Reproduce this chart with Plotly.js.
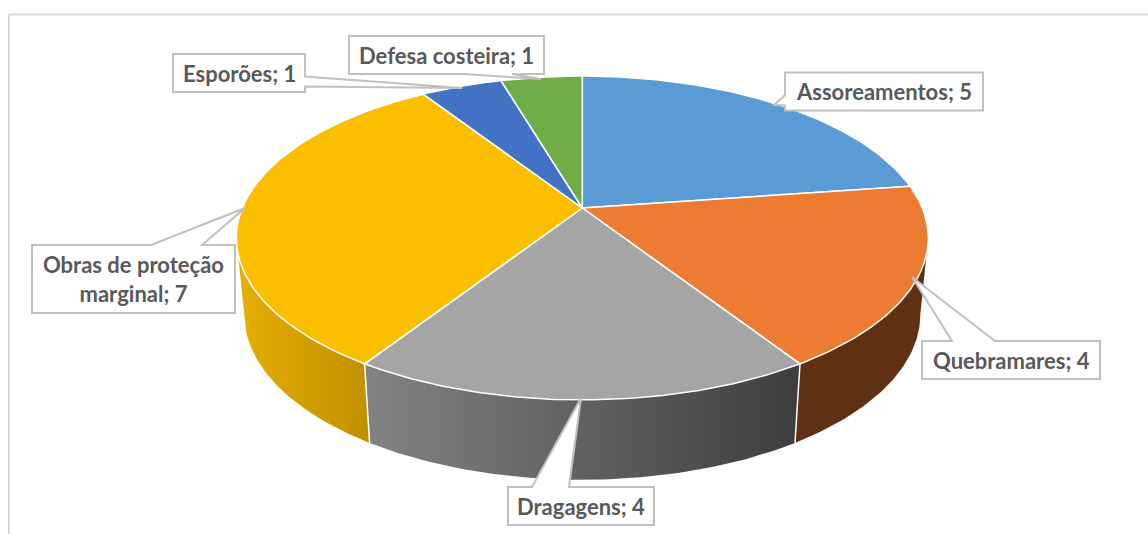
<!DOCTYPE html>
<html>
<head>
<meta charset="utf-8">
<script src="https://cdn.plot.ly/plotly-3.0.1.min.js"></script>
<style>html,body{margin:0;padding:0;background:#fff}#chart{width:1148px;height:534px}</style>
</head>
<body>
<div id="chart"></div>
<script>
// ---- data ----
const categories = ["Assoreamentos", "Quebramares", "Dragagens", "Obras de proteção marginal", "Esporões", "Defesa costeira"];
const values = [5, 4, 4, 7, 1, 1];
const labelTexts = ["Assoreamentos; 5", "Quebramares; 4", "Dragagens; 4", "Obras de proteção<br>marginal; 7", "Esporões; 1", "Defesa costeira; 1"];

// ---- styles ----
const topColors = ["#5b9bd5", "#ec7c31", "#a5a5a5", "#fbbf00", "#4472c4", "#70ad47"];
const wallFills = [
  null,
  {color: "#5f3112"},
  {grad: [[0, "#838383"], [1, "#3e3e3e"]], start: 368, stop: 796},
  {grad: [[0, "#e6ae00"], [1, "#bf9000"]], start: 238, stop: 370},
  null,
  null
];
const textColor = "#595959";
const calloutLine = "#c0c0c0";
const frameColor = "#d9d9d9";

// ---- projection of the tilted pie (pixel-valued axes) ----
const CX = 582.3, CY = 208, A = 340, B = 117.9, C = -0.185;
const EXT = Math.acos(C) * 180 / Math.PI; // angle of the widest point of the rim
function topPt(deg) {
  const r = deg * Math.PI / 180, X = Math.sin(r), Y = -Math.cos(r), w = 1 + C * Y;
  return [CX + A * X / w, (CY + B * Y) / w];
}
function botPt(deg) {
  const p = topPt(deg);
  return [CX + 0.977 * (p[0] - CX), CY + 76 + 1.02 * (p[1] - CY)];
}
function arc(fn, a0, a1) {
  const n = Math.max(2, Math.ceil(Math.abs(a1 - a0) / 0.75)), out = [];
  for (let i = 0; i <= n; i++) out.push(fn(a0 + (a1 - a0) * i / n));
  return out;
}

const total = values.reduce((s, v) => s + v, 0);
let acc = 0;
const spans = values.map(v => { const a = acc / total * 360; acc += v; return [a, acc / total * 360]; });

const traces = [];
// side walls (front only)
spans.forEach((sp, i) => {
  const f = wallFills[i];
  if (!f) return;
  const a0 = Math.max(sp[0], EXT), a1 = Math.min(sp[1], 360 - EXT);
  const pts = arc(topPt, a0, a1).concat(arc(botPt, a1, a0));
  const t = {type: "scatter", mode: "lines", x: pts.map(p => p[0]), y: pts.map(p => p[1]),
    fill: "toself", line: {width: 0}, hoverinfo: "skip", name: categories[i]};
  if (f.grad) t.fillgradient = {type: "horizontal", colorscale: f.grad, start: f.start, stop: f.stop};
  else t.fillcolor = f.color;
  traces.push(t);
});
// seams between the visible walls
spans.forEach(sp => {
  const a = sp[1];
  if (a > EXT && a < 360 - EXT) {
    const p = topPt(a), q = botPt(a);
    traces.push({type: "scatter", mode: "lines", x: [p[0], q[0]], y: [p[1], q[1]],
      line: {color: "#ffffff", width: 1.5}, hoverinfo: "skip"});
  }
});
// top faces
spans.forEach((sp, i) => {
  const pts = [[CX, CY]].concat(arc(topPt, sp[0], sp[1])).concat([[CX, CY]]);
  traces.push({type: "scatter", mode: "lines", x: pts.map(p => p[0]), y: pts.map(p => p[1]),
    fill: "toself", fillcolor: topColors[i], line: {color: "#ffffff", width: 1.5},
    hoverinfo: "skip", name: categories[i]});
});

// ---- callout boxes, in the same order as categories ----
const boxes = [
  {x0: 785, x1: 983, y0: 72.5, y1: 110.5, side: "left",   a: 95,  b: 105.5, tip: [774, 105]},
  {x0: 922, x1: 1100, y0: 341, y1: 379,   side: "top",    a: 952, b: 995,   tip: [912, 277]},
  {x0: 508, x1: 654, y0: 487, y1: 525,    side: "top",    a: 532, b: 569,   tip: [581, 398]},
  {x0: 32,  x1: 235, y0: 245, y1: 313,    side: "top",    a: 151, b: 202,   tip: [245, 208]},
  {x0: 173, x1: 305, y0: 54,  y1: 92,     side: "right",  a: 76.5, b: 86.5, tip: [462, 88]},
  {x0: 349, x1: 544, y0: 36,  y1: 74,     side: "bottom", a: 463, b: 512,   tip: [541, 79]}
];
function calloutPath(b) {
  let p = "M" + b.x0 + "," + b.y0;
  if (b.side === "top") p += "L" + b.a + "," + b.y0 + "L" + b.tip + "L" + b.b + "," + b.y0;
  p += "L" + b.x1 + "," + b.y0;
  if (b.side === "right") p += "L" + b.x1 + "," + b.a + "L" + b.tip + "L" + b.x1 + "," + b.b;
  p += "L" + b.x1 + "," + b.y1;
  if (b.side === "bottom") p += "L" + b.b + "," + b.y1 + "L" + b.tip + "L" + b.a + "," + b.y1;
  p += "L" + b.x0 + "," + b.y1;
  if (b.side === "left") p += "L" + b.x0 + "," + b.b + "L" + b.tip + "L" + b.x0 + "," + b.a;
  return p + "Z";
}
const shapes = boxes.map(b => ({type: "path", xref: "x", yref: "y", path: calloutPath(b),
  fillcolor: "#ffffff", line: {color: calloutLine, width: 2}, layer: "above"}));
shapes.push({type: "line", xref: "x", yref: "y", x0: 9, x1: 1148, y0: 14.5, y1: 14.5, line: {color: frameColor, width: 2}});
shapes.push({type: "line", xref: "x", yref: "y", x0: 9, x1: 9, y0: 14.5, y1: 534, line: {color: frameColor, width: 2}});

const annotations = boxes.map((b, i) => ({
  x: (b.x0 + b.x1) / 2, y: (b.y0 + b.y1) / 2, xref: "x", yref: "y",
  text: "<b>" + labelTexts[i] + "</b>", showarrow: false, align: "center",
  xanchor: "center", yanchor: "middle",
  font: {family: "Lato, Carlito, sans-serif", size: 22, color: textColor}
}));

const layout = {
  width: 1148, height: 534, margin: {l: 0, r: 0, t: 0, b: 0},
  paper_bgcolor: "#ffffff", plot_bgcolor: "#ffffff", showlegend: false,
  xaxis: {range: [0, 1148], visible: false, fixedrange: true},
  yaxis: {range: [534, 0], visible: false, fixedrange: true},
  shapes: shapes, annotations: annotations
};
Plotly.newPlot("chart", traces, layout, {displayModeBar: false, staticPlot: true});
</script>
</body>
</html>
